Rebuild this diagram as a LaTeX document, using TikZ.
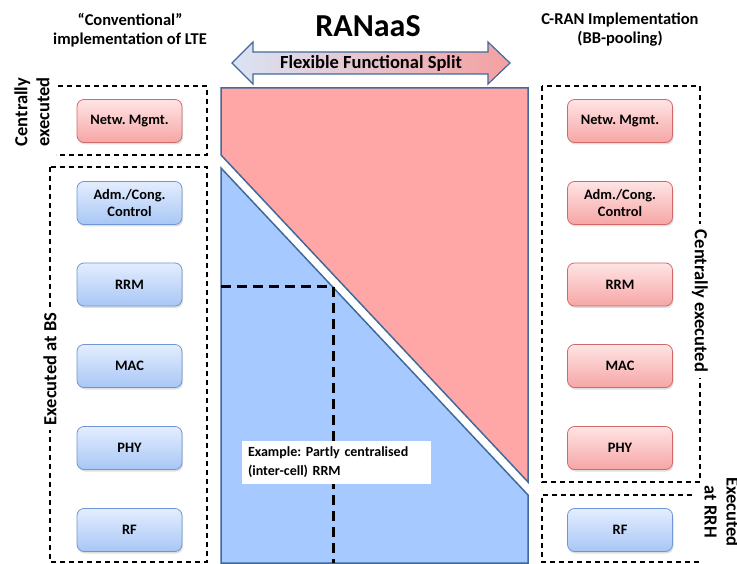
\documentclass[tikz,border=0pt]{standalone}
\usepackage{fontspec}
\setmainfont{Carlito}
\frenchspacing
\usetikzlibrary{shadows}
\definecolor{redfill}{RGB}{255,166,166}
\definecolor{bluefill}{RGB}{166,202,255}
\definecolor{edgeblue}{RGB}{65,105,155}
\definecolor{rtop}{RGB}{255,228,228}
\definecolor{rbot}{RGB}{246,166,166}
\definecolor{rborder}{RGB}{210,105,105}
\definecolor{btop}{RGB}{228,237,255}
\definecolor{bbot}{RGB}{168,199,245}
\definecolor{bborder}{RGB}{110,150,210}
\definecolor{arrL}{RGB}{218,228,245}
\definecolor{arrR}{RGB}{244,160,160}
\tikzset{
  fbox/.style={rounded corners=7pt, minimum width=105pt, minimum height=43pt,
    line width=0.8pt, font=\fontsize{14.4}{16.5}\selectfont\bfseries, align=center,
    drop shadow={opacity=0.25, shadow xshift=1pt, shadow yshift=-2pt}},
  redbox/.style={fbox, draw=rborder, top color=rtop, bottom color=rbot},
  bluebox/.style={fbox, draw=bborder, top color=btop, bottom color=bbot},
  dbox/.style={dashed, dash pattern=on 5pt off 4pt, line width=1.3pt, black},
  sidelabel/.style={fill=white, font=\fontsize{18.5}{22}\selectfont\bfseries, align=center, inner sep=3pt},
  header/.style={font=\fontsize{16.5}{19}\selectfont\bfseries, align=center},
  poly/.style={draw=edgeblue, line width=1.5pt, line join=miter}
}
\begin{document}
\begin{tikzpicture}[x=1pt,y=-1pt]
\useasboundingbox (0,0) rectangle (737,564);
% headers
\node[header] (hl) at (130,30) {“Conventional”\\implementation of LTE};
\node[header] (hr) at (620,30) {C-RAN Implementation\\(BB-pooling)};
\node[font=\fontsize{32}{34}\selectfont\bfseries] (title) at (368,26) {RANaaS};
% double arrow
\draw[draw=edgeblue, line width=1.2pt, left color=arrL, right color=arrR, line join=miter]
  (232,63) -- (253,42) -- (253,52) -- (488,52) -- (488,42) -- (510,63)
  -- (488,84) -- (488,74) -- (253,74) -- (253,84) -- cycle;
\node[font=\fontsize{18.5}{20}\selectfont\bfseries] (split) at (371,63) {Flexible Functional Split};
% central polygons
\fill[redfill] (221,88) -- (528,88) -- (528,482) -- (221,155) -- cycle;
\draw[poly] (221,155) -- (221,88) -- (528,88) -- (528,482) -- (221,155);
\fill[bluefill] (221,168) -- (528,495) -- (528,563) -- (221,563) -- cycle;
\draw[poly] (221,168) -- (528,495) -- (528,563) -- (221,563) -- cycle;
% thick dashed line
\coordinate (dA) at (221,287);
\coordinate (dB) at (333,287);
\coordinate (dC) at (333,563);
\draw[line width=3pt, dash pattern=on 10pt off 6pt] (dA) -- (dB) -- (dC);
\node[fill=white, minimum width=189pt, minimum height=43pt, text width=177pt, align=left,
  font=\fontsize{14}{19}\selectfont\bfseries, inner sep=6pt] (ex) at (336.5,462.5)
  {Example: Partly centralised\\(inter-cell) RRM};
% left dashed boxes
\draw[dbox] (58,86) -- (207,86) -- (207,155) -- (56,155);
\draw[dbox] (50,167) rectangle (207,562);
\node[sidelabel, rotate=90] (lc) at (32,112) {Centrally\\executed};
\node[sidelabel, rotate=90, inner sep=5pt] (lbs) at (50,369) {Executed at BS};
% right dashed boxes
\draw[dbox] (542,86) rectangle (700,482);
\draw[dbox] (692,495) -- (542,495) -- (542,562) -- (700,562);
\node[sidelabel, rotate=-90, inner sep=6pt] (rc) at (700,301) {Centrally executed};
\node[sidelabel, rotate=-90] (rrh) at (722,512) {Executed\\at RRH};
% left function boxes
\node[redbox]  (lnm)  at (129.5,121) {Netw. Mgmt.};
\node[bluebox] (ladm) at (129.5,203) {Adm./Cong.\\Control};
\node[bluebox] (lrrm) at (129.5,284.5) {RRM};
\node[bluebox] (lmac) at (129.5,366) {MAC};
\node[bluebox] (lphy) at (129.5,448) {PHY};
\node[bluebox] (lrf)  at (129.5,530) {RF};
% right function boxes
\node[redbox]  (rnm)  at (620,121) {Netw. Mgmt.};
\node[redbox]  (radm) at (620,203) {Adm./Cong.\\Control};
\node[redbox]  (rrrm) at (620,284.5) {RRM};
\node[redbox]  (rmac) at (620,366) {MAC};
\node[redbox]  (rphy) at (620,448) {PHY};
\node[bluebox] (rrf)  at (620,530) {RF};
\end{tikzpicture}
\end{document}
